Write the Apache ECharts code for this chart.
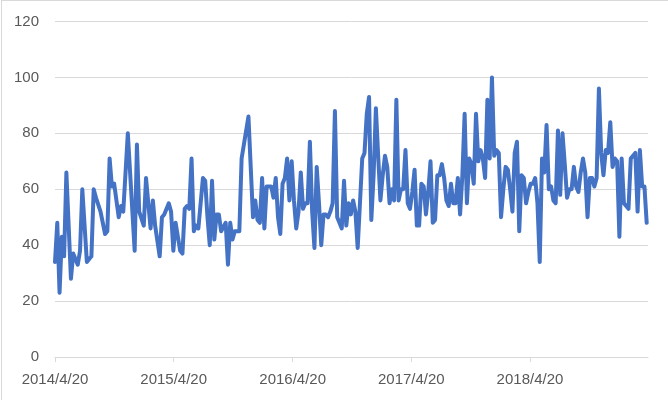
<!DOCTYPE html>
<html>
<head>
<meta charset="utf-8">
<script src="https://cdn.jsdelivr.net/npm/echarts@6/dist/echarts.min.js"></script>
<style>
  html, body { margin: 0; padding: 0; background: #fff; }
  #wrap { position: relative; width: 668px; height: 400px; }
  #chart { width: 668px; height: 400px; }
  #frame { position: absolute; left: 1px; top: 0; width: 667px; height: 400px;
           border-left: 1px solid #d9d9d9; border-top: 1px solid #d9d9d9;
           box-sizing: border-box; pointer-events: none; }
</style>
</head>
<body>
<div id="wrap"><div id="chart"></div><div id="frame"></div></div>
<script>
// Week offsets from the first date, and the value at each of those weeks
const startDate = [2014, 4, 20];
const weekNo = [0,1,2,3,4,5,7,8,10,11,12,14,16,17,18,20,22,23,24,25,26,28,29,30,32,35,36,37,39,40,
  42,43,44,46,47,48,50,51,52,53,55,56,57,58,59,60,61,62,63,65,66,67,68,69,70,71,72,73,75,76,77,78,79,81,82,83,
  85,87,88,89,90,91,92,93,94,95,96,97,98,99,100,101,102,103,104,105,106,107,108,109,110,111,112,113,114,115,116,117,118,119,120,121,122,123,124,125,126,127,128,
  129,130,131,132,133,134,135,136,137,138,139,140,141,142,143,144,145,146,147,148,149,150,151,152,153,154,155,156,157,158,159,160,161,162,163,164,165,166,167,168,169,170,171,172,
  173,174,175,176,177,178,179,180,181,182,183,184,185,186,187,188,189,190,191,192,193,194,195,196,197,198,199,200,201,202,203,204,205,206,207,208,209,210,211,212,213,214,215,216,
  217,218,219,220,221,222,223,224,225,226,227,228,229,230,231,232,233,234,235,236,237,238,239,240,241,242,243,244,245,246,247,248,249,250,251,252,253,254,255,256,257,258,259,260];
const values = [34,48,23,43,36,66,28,37,33,38,60,34,36,60,57,52,44,45,71,61,62,50,54,52,80,38,76,52,47,64,
  46,56,47,36,50,51,55,52,38,48,38,37,53,54,53,71,45,47,46,64,63,50,40,63,42,51,51,45,48,33,48,42,45,45,71,76,
  86,50,56,49,48,64,46,61,61,61,57,64,50,44,62,64,71,56,70,56,46,52,66,53,55,55,77,52,39,68,55,40,51,51,50,52,55,88,50,48,46,63,47,
  55,51,56,52,39,55,71,73,87,93,49,65,89,72,56,65,72,68,55,60,56,92,56,60,60,74,55,53,59,67,47,47,62,61,51,59,70,48,49,65,65,69,64,56,
  54,62,55,55,64,51,65,87,55,71,69,62,87,70,74,71,64,92,71,100,72,74,73,50,60,68,67,60,52,73,77,45,65,64,55,59,62,62,64,55,34,71,66,83,
  60,61,56,55,81,58,80,69,57,60,60,68,61,59,66,71,66,50,64,64,61,64,96,73,65,74,73,84,68,71,70,43,71,55,54,53,71,72,73,52,74,61,61,48];
const tickLabels = ['2014/4/20', '2015/4/20', '2016/4/20', '2017/4/20', '2018/4/20'];
const yTicks = [0, 20, 40, 60, 80, 100, 120];

const DAY = 86400000;
const t0 = Date.UTC(startDate[0], startDate[1] - 1, startDate[2]);
function parseLabel(s) { const p = s.split('/').map(Number); return Math.round((Date.UTC(p[0], p[1] - 1, p[2]) - t0) / DAY); }
function fmt(v) { const d = new Date(t0 + Math.round(v) * DAY); return d.getUTCFullYear() + '/' + (d.getUTCMonth() + 1) + '/' + d.getUTCDate(); }

const seriesData = weekNo.map((w, i) => [w * 7, values[i]]);
const tickDays = tickLabels.map(parseLabel);

const chart = echarts.init(document.getElementById('chart'), null, { renderer: 'canvas' });
chart.setOption({
  animation: false,
  backgroundColor: '#ffffff',
  grid: { left: 55, right: 20, top: 21.5, bottom: 43, containLabel: false },
  textStyle: { fontFamily: 'Liberation Sans' },
  xAxis: {
    type: 'value',
    min: 0,
    max: weekNo[weekNo.length - 1] * 7 + 4,
    axisLine: { show: true, lineStyle: { color: '#d9d9d9', width: 1 } },
    axisTick: { show: true, length: 5, lineStyle: { color: '#d9d9d9' }, customValues: tickDays },
    axisLabel: { customValues: tickDays, formatter: fmt, color: '#595959', fontSize: 15,
                 fontFamily: 'Liberation Sans', margin: 15 },
    splitLine: { show: false }
  },
  yAxis: {
    type: 'value',
    min: yTicks[0], max: yTicks[yTicks.length - 1], interval: 20,
    axisLine: { show: false }, axisTick: { show: false },
    axisLabel: { color: '#595959', fontSize: 15, fontFamily: 'Liberation Sans', margin: 16 },
    splitLine: { lineStyle: { color: '#d9d9d9', width: 1 } }
  },
  series: [{
    type: 'line',
    data: seriesData,
    showSymbol: false,
    symbol: 'none',
    lineStyle: { color: '#4472C4', width: 4, join: 'round', cap: 'round' }
  }]
});
</script>
</body>
</html>
